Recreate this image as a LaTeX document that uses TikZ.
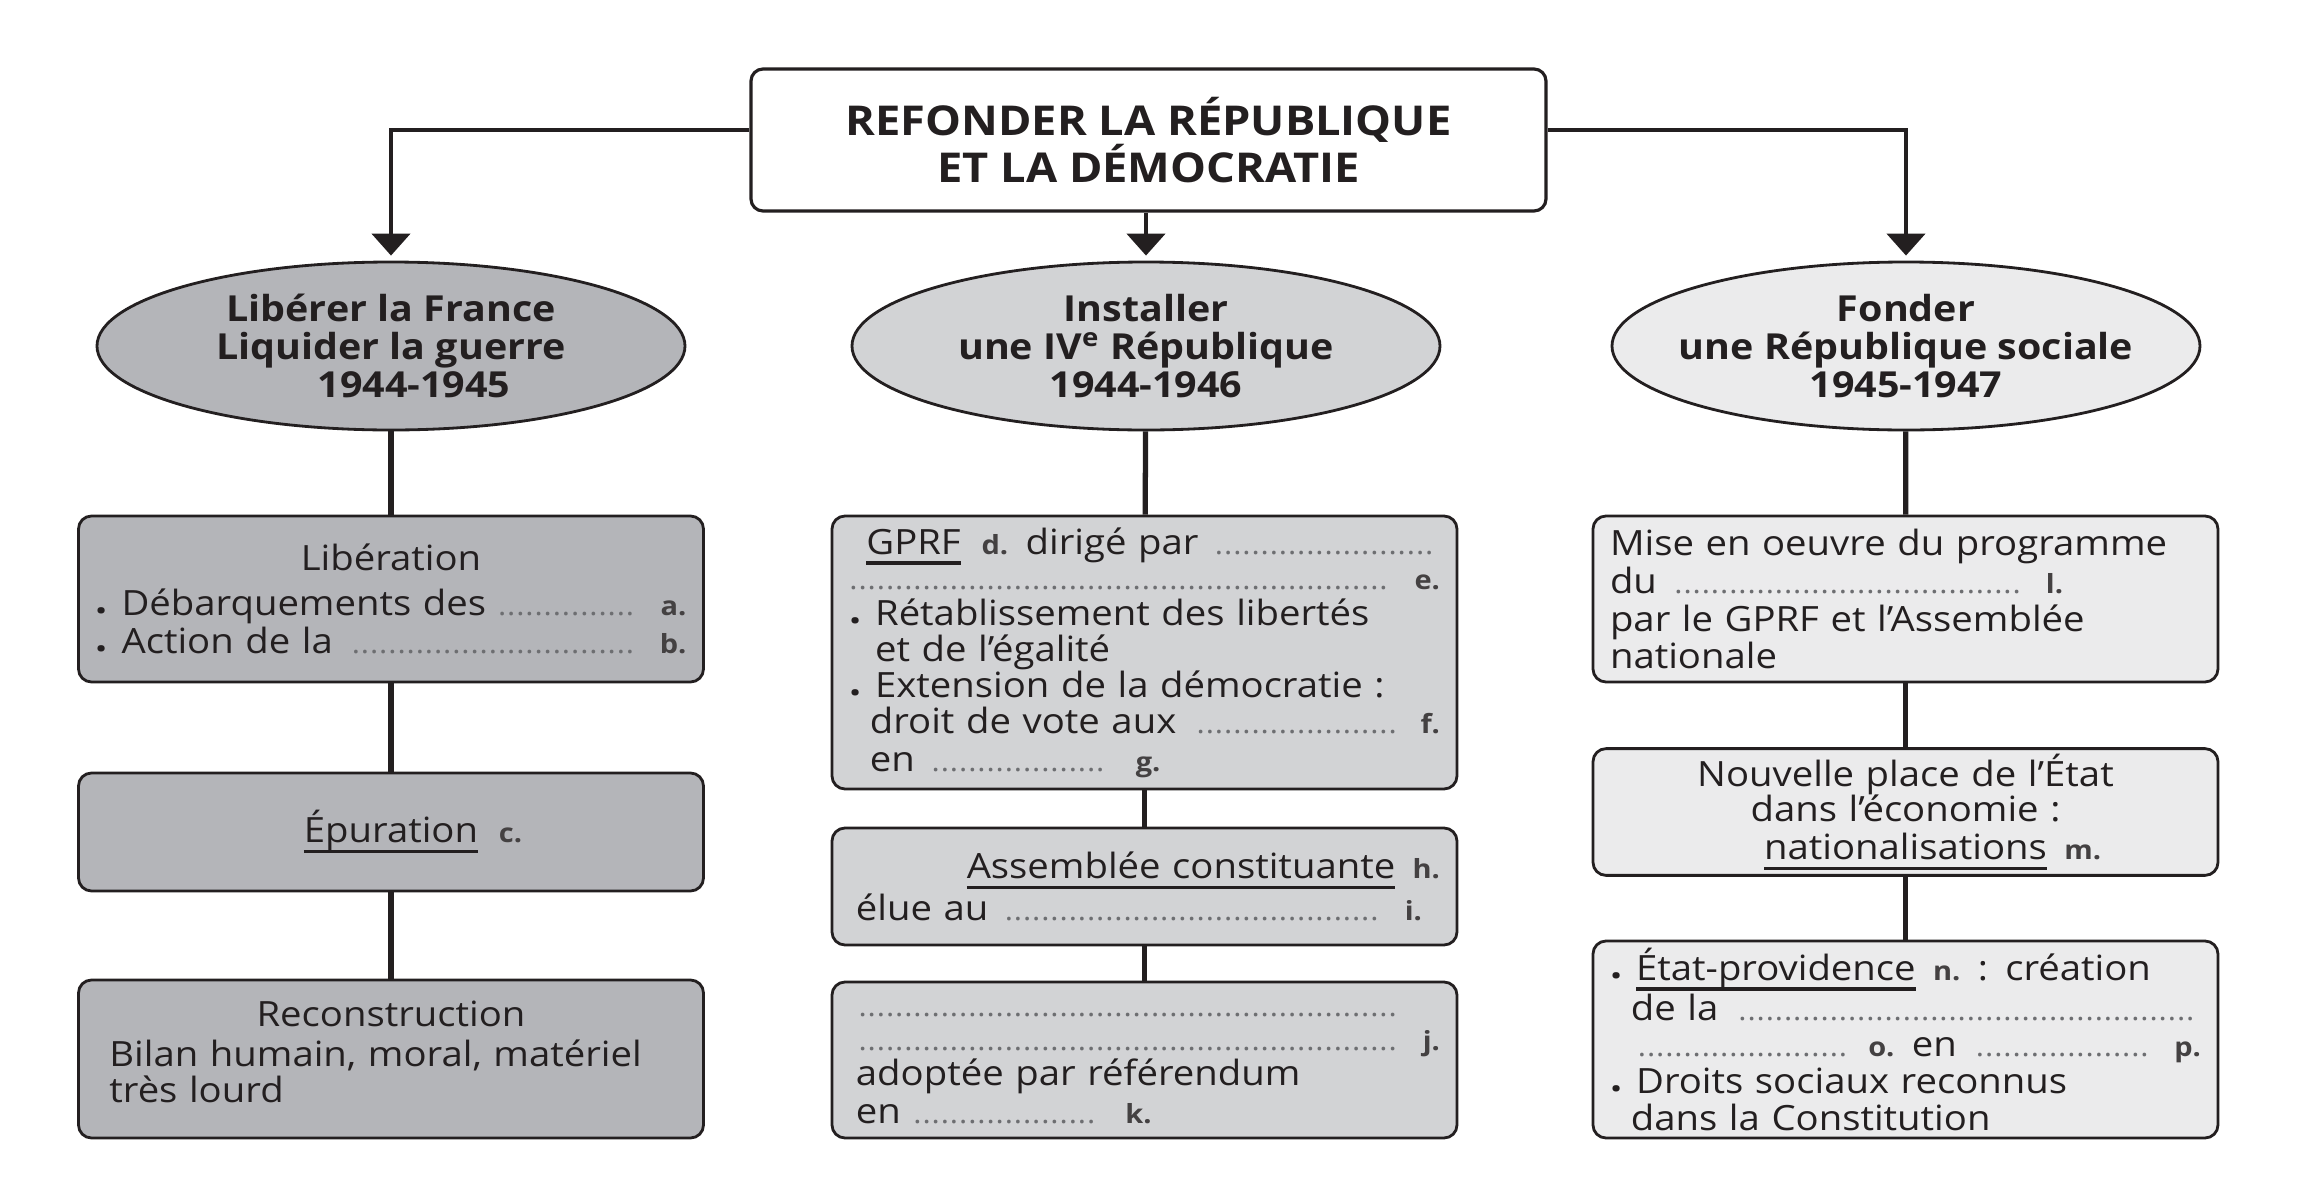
\documentclass[tikz,border=0pt]{standalone}
\usepackage{fontspec}
\setmainfont[FakeStretch=1.1]{Open Sans}
\usetikzlibrary{shapes.geometric,arrows.meta}
\definecolor{grisfonce}{HTML}{B4B5B9}
\definecolor{grismoyen}{HTML}{D2D3D5}
\definecolor{grisclair}{HTML}{EBEBEC}
\definecolor{encre}{HTML}{231F20}
\definecolor{pointille}{HTML}{6D6E71}
\newsavebox{\soulbox}
\newcommand{\pts}{\leavevmode\leaders\hbox to 2.6pt{\hss\textcolor{pointille}{\fontsize{8}{8}\selectfont.}\hss}\hfill\kern0pt}
\newcommand{\ptsl}[1]{\leavevmode\leaders\hbox to 2.6pt{\hss\textcolor{pointille}{\fontsize{8}{8}\selectfont.}\hss}\hskip #1\relax}
\newcommand{\lettre}[1]{{\fontsize{7.5}{8}\selectfont\bfseries\textcolor{encre!85}{#1}}}
\newcommand{\puce}{\makebox[0.75em][l]{\raisebox{0.1ex}{\fontsize{11}{11}\selectfont\bfseries .}}}
\newcommand{\souligne}[1]{\leavevmode\sbox{\soulbox}{#1}\rlap{\rule[-3pt]{\wd\soulbox}{0.9pt}}\usebox{\soulbox}}
\begin{document}
\begin{tikzpicture}[
    bulle/.style={ellipse, draw=encre, line width=0.8pt, minimum width=5.88cm, minimum height=1.68cm, inner xsep=-0.6cm, inner ysep=-0.2cm, align=center, text=encre, font=\fontsize{10.2}{10.9}\selectfont\bfseries},
    cadre/.style={draw=encre, line width=0.8pt, rounded corners=0.13cm, text width=5.91cm, inner xsep=0.17cm, inner ysep=0.05cm, align=left, text=encre, font=\fontsize{9.9}{10.8}\selectfont},
    fleche/.style={draw=encre, line width=1.3pt, -{Triangle[width=0.38cm,length=0.22cm]}, shorten >=0.5mm},
    lien/.style={draw=encre, line width=1.5pt}
]
    \useasboundingbox (0,0) rectangle (23.08,11.82);
    \node[draw=encre, line width=0.9pt, rounded corners=0.12cm, minimum width=7.95cm, minimum height=1.42cm, align=center, text=encre, font=\fontsize{11.7}{13.6}\selectfont\bfseries] (titre) at (11.485,10.42) {REFONDER LA RÉPUBLIQUE\\ET LA DÉMOCRATIE};

    \node[bulle, fill=grisfonce] (liberer) at (3.91,8.36) {Libérer la France\\Liquider la guerre\\\hspace*{0.46cm}1944-1945};
    \node[bulle, fill=grismoyen] (installer) at (11.46,8.36) {Installer\\une IV\textsuperscript{e} République\\1944-1946};
    \node[bulle, fill=grisclair] (fonder) at (19.06,8.36) {Fonder\\une République sociale\\1945-1947};

    \node[cadre, fill=grisfonce, minimum height=1.66cm] (lib) at (3.91,5.83) {%
        {\centering Libération\par}\vspace{2pt}
        \puce Débarquements des\hspace{0.3em}\pts\hspace{0.5em}\lettre{a.}\\
        \puce Action de la \pts\hspace{0.5em}\lettre{b.}};
    \node[cadre, fill=grisfonce, minimum height=1.18cm] (epur) at (3.91,3.50) {%
        \centering\souligne{Épuration}\rlap{\hspace{0.6em}\lettre{c.}}\par};
    \node[cadre, fill=grisfonce, minimum height=1.58cm] (recon) at (3.91,1.23) {%
        \fontsize{9.9}{10.4}\selectfont
        {\centering Reconstruction\par}\vspace{1pt}
        \hspace*{0.4em}Bilan humain, moral, matériel\\
        \hspace*{0.4em}très lourd\par\vspace{4pt}};

    \node[cadre, fill=grismoyen, minimum height=2.73cm] (gprf) at (11.445,5.295) {%
        \fontsize{9.9}{10.2}\selectfont
        \hspace*{0.5em}\souligne{GPRF}\hspace{0.6em}\lettre{d.}\hspace{0.5em}dirigé par \pts\hspace*{0.6em}\\
        \pts\hspace{0.5em}\lettre{e.}\\
        \puce Rétablissement des libertés\\
        \hspace*{0.75em}et de l’égalité\\
        \puce Extension de la démocratie~:\\
        \hspace*{0.6em}droit de vote aux \pts\hspace{0.5em}\lettre{f.}\\
        \hspace*{0.6em}en \ptsl{1.85cm}\hspace{0.7em}\lettre{g.}};
    \node[cadre, fill=grismoyen, minimum height=1.17cm] (assemb) at (11.445,2.955) {%
        \hfill\souligne{Assemblée constituante}\hspace{0.5em}\lettre{h.}\hspace*{0.14cm}\\[1pt]
        \hspace*{0.2em}élue au \pts\hspace{0.5em}\lettre{i.}\hspace*{0.18cm}};
    \node[cadre, fill=grismoyen, minimum height=1.56cm] (consti) at (11.445,1.22) {%
        \fontsize{9.9}{9.9}\selectfont
        \hspace*{0.2em}\pts\phantom{\hspace{0.5em}\lettre{j.}}\\
        \hspace*{0.2em}\pts\hspace{0.5em}\lettre{j.}\\
        \hspace*{0.2em}adoptée par référendum\\
        \hspace*{0.2em}en \ptsl{1.85cm}\hspace{0.8em}\lettre{k.}};

    \node[cadre, fill=grisclair, minimum height=1.66cm] (prog) at (19.055,5.83) {%
        Mise en oeuvre du programme\\
        du \ptsl{3.6cm}\hspace{0.5em}\lettre{l.}\\
        par le GPRF et l’Assemblée\\
        nationale};
    \node[cadre, fill=grisclair, minimum height=1.16cm, align=center] (etat) at (19.055,3.70) {%
        \fontsize{9.9}{10.2}\selectfont
        Nouvelle place de l’État\\
        dans l’économie~:\\
        \souligne{nationalisations}\rlap{\hspace{0.5em}\lettre{m.}}};
    \node[cadre, fill=grisclair, minimum height=1.97cm] (provi) at (19.055,1.425) {%
        \fontsize{9.9}{10.3}\selectfont
        \puce\souligne{État-providence}\hspace{0.5em}\lettre{n.}\hspace{0.5em}: création\\
        \hspace*{0.6em}de la \pts\hspace*{0.55cm}\\
        \hspace*{0.6em}\ptsl{2.2cm}\hspace{0.5em}\lettre{o.} en \pts\hspace{0.5em}\lettre{p.}\\
        \puce Droits sociaux reconnus\\
        \hspace*{0.6em}dans la Constitution};

    \draw[fleche] ([yshift=1mm]titre.west) -| (liberer.north);
    \draw[fleche] (titre.south -| installer.north) -- (installer.north);
    \draw[fleche] ([yshift=1mm]titre.east) -| (fonder.north);

    \draw[lien] (liberer) -- (lib);
    \draw[lien] (lib) -- (epur);
    \draw[lien] (epur) -- (recon);
    \draw[lien] (installer) -- (gprf);
    \draw[lien] (gprf) -- (assemb);
    \draw[lien] (assemb) -- (consti);
    \draw[lien] (fonder) -- (prog);
    \draw[lien] (prog) -- (etat);
    \draw[lien] (etat) -- (provi);
\end{tikzpicture}
\end{document}
